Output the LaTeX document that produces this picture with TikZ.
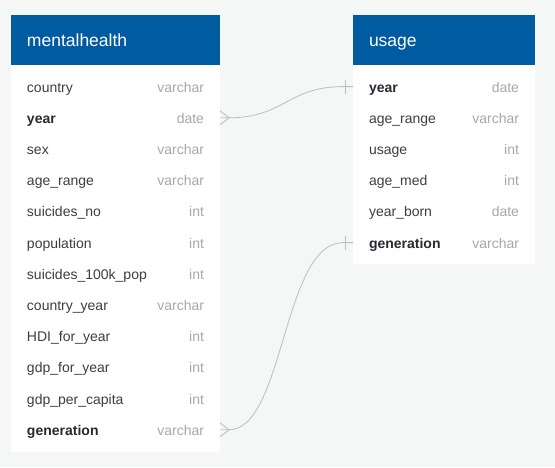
\documentclass[tikz,border=0pt]{standalone}
\usepackage{fontspec}
\setmainfont{Liberation Sans}
\usetikzlibrary{positioning}
\definecolor{bgcol}{HTML}{F5F6F6}
\definecolor{headblue}{HTML}{005BA1}
\definecolor{fieldcol}{HTML}{3A3F45}
\definecolor{keycol}{HTML}{262A31}
\definecolor{typecol}{HTML}{A8A8A8}
\definecolor{linkcol}{HTML}{BDBDBD}
\newcommand\fsep{\hskip 0pt plus 1filll}
\newcommand\ftype[1]{{\color{typecol}#1}}
\newcommand\fkey[1]{{\bfseries\color{keycol}#1}}
\tikzset{
  tablehead/.style={fill=headblue, text=white, anchor=north west,
    inner xsep=16pt, inner ysep=0pt, outer sep=0pt, minimum height=50pt,
    text width=#1, text height=14pt, text depth=1pt,
    font=\fontsize{17.5}{20}\selectfont},
  field/.style={inner xsep=16pt, inner ysep=0pt, outer sep=0pt,
    minimum height=31.2pt, text width=#1, text height=12pt, text depth=1pt,
    text=fieldcol, font=\fontsize{14}{16}\selectfont},
  link/.style={draw=linkcol, line width=0.8pt}
}
\begin{document}
\begin{tikzpicture}[x=1pt, y=-1pt]
  \useasboundingbox[fill=bgcol] (0,0) rectangle (555,467);
  % table bodies
  \fill[white] (11,65) rectangle (220,452);
  \fill[white] (353,65) rectangle (535,264);

  % mentalhealth
  \node[tablehead=177pt] (mh) at (11,15) {mentalhealth};
  \node[field=177pt, below=6pt of mh] (mh-country) {country\fsep\ftype{varchar}};
  \node[field=177pt, below=0pt of mh-country] (mh-year) {\fkey{year}\fsep\ftype{date}};
  \node[field=177pt, below=0pt of mh-year] (mh-sex) {sex\fsep\ftype{varchar}};
  \node[field=177pt, below=0pt of mh-sex] (mh-age) {age\_range\fsep\ftype{varchar}};
  \node[field=177pt, below=0pt of mh-age] (mh-suicides) {suicides\_no\fsep\ftype{int}};
  \node[field=177pt, below=0pt of mh-suicides] (mh-pop) {population\fsep\ftype{int}};
  \node[field=177pt, below=0pt of mh-pop] (mh-rate) {suicides\_100k\_pop\fsep\ftype{int}};
  \node[field=177pt, below=0pt of mh-rate] (mh-cyear) {country\_year\fsep\ftype{varchar}};
  \node[field=177pt, below=0pt of mh-cyear] (mh-hdi) {HDI\_for\_year\fsep\ftype{int}};
  \node[field=177pt, below=0pt of mh-hdi] (mh-gdp) {gdp\_for\_year\fsep\ftype{int}};
  \node[field=177pt, below=0pt of mh-gdp] (mh-gdpcap) {gdp\_per\_capita\fsep\ftype{int}};
  \node[field=177pt, below=0pt of mh-gdpcap] (mh-gen) {\fkey{generation}\fsep\ftype{varchar}};

  % usage
  \node[tablehead=150pt] (us) at (353,15) {usage};
  \node[field=150pt, below=6pt of us] (us-year) {\fkey{year}\fsep\ftype{date}};
  \node[field=150pt, below=0pt of us-year] (us-age) {age\_range\fsep\ftype{varchar}};
  \node[field=150pt, below=0pt of us-age] (us-usage) {usage\fsep\ftype{int}};
  \node[field=150pt, below=0pt of us-usage] (us-med) {age\_med\fsep\ftype{int}};
  \node[field=150pt, below=0pt of us-med] (us-born) {year\_born\fsep\ftype{date}};
  \node[field=150pt, below=0pt of us-born] (us-gen) {\fkey{generation}\fsep\ftype{varchar}};

  % relations
  \coordinate[left=10pt of us-year.west] (us-year-in);
  \coordinate[left=10pt of us-gen.west] (us-gen-in);
  \coordinate[right=9pt of mh-year.east] (mh-year-out);
  \coordinate[right=9pt of mh-gen.east] (mh-gen-out);
  \begin{scope}[link]
    \draw (mh-year.east) -- (mh-year-out)
      .. controls +(55,0) and +(-55,0) .. (us-year-in) -- (us-year.west);
    \draw (mh-year.east) ++(0,-7) -- (mh-year-out) -- ++(-9,7);
    \draw (us-year-in) ++(2,-7) -- ++(0,14);
    \draw (mh-gen.east) -- (mh-gen-out)
      .. controls +(55,0) and +(-60,0) .. (us-gen-in) -- (us-gen.west);
    \draw (mh-gen.east) ++(0,-7) -- (mh-gen-out) -- ++(-9,7);
    \draw (us-gen-in) ++(2,-7) -- ++(0,14);
  \end{scope}
\end{tikzpicture}
\end{document}
